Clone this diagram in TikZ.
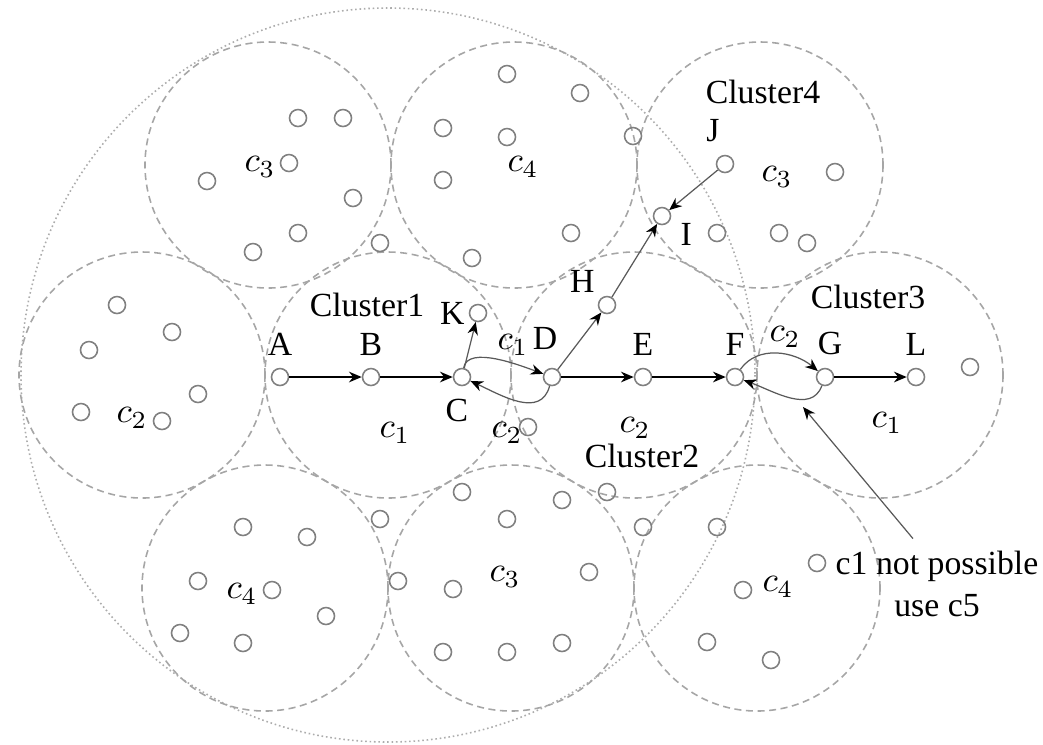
\documentclass[tikz,border=0pt]{standalone}
\usepackage{fontspec}
\setmainfont{Liberation Serif}
\usetikzlibrary{arrows.meta}

\begin{document}
\begin{tikzpicture}[
      x=0.01cm,y=-0.01cm,
      font=\fontsize{9.6}{12}\selectfont,
      zone/.style={draw=gray!70,line width=0.45pt,dash pattern=on 2pt off 1.3pt},
      reach/.style={draw=gray!65,line width=0.45pt,dash pattern=on 0.45pt off 0.8pt},
      sensor/.style={circle,draw=gray,line width=0.45pt,minimum size=0.17cm,inner sep=0pt},
      hop/.style={-{Stealth[length=3.6pt,width=3pt]},line width=0.6pt},
      link/.style={draw=gray!70!black,line width=0.35pt,-{Stealth[length=3.6pt,width=3pt,color=black]}}
    ]
      \useasboundingbox (0,0) rectangle (1043,744);
      % transmission range and the zones
      \draw[reach] (388,375) circle (367);
      \foreach \x/\y in {268/165,514/165,760/165,142/375,388/375,634/375,880/375,265/588,511/588,757/588}
        \draw[zone] (\x,\y) circle (123);
      % idle sensors
      \foreach \x/\y [count=\i] in {298/118,343/118,289/163,207/181,353/198,298/233,253/252,380/243,
          507/74,580/93,443/128,507/137,443/180,633/136,571/233,472/258,
          835/172,717/233,779/233,807/243,
          117/305,172/332,89/350,198/394,81/412,162/421,528/427,970/367,
          243/527,307/537,198/581,272/590,326/616,180/633,243/643,380/519,398/581,
          462/492,562/500,607/492,507/519,453/589,589/572,443/652,507/652,562/643,
          643/527,717/527,817/563,743/590,707/642,771/660}
        \node[sensor] (s\i) at (\x,\y) {};
      % sensors on the route
      \node[sensor,label=above:A] (A) at (280,377) {};
      \node[sensor,label=above:B] (B) at (371,377) {};
      \node[sensor,label={[xshift=-0.05cm]below:C}] (C) at (462,377) {};
      \node[sensor,label={[xshift=-0.07cm,yshift=0.06cm]above:D}] (D) at (552,377) {};
      \node[sensor,label=above:E] (E) at (643,377) {};
      \node[sensor,label=above:F] (F) at (735,377) {};
      \node[sensor,label={[xshift=0.05cm]above:G}] (G) at (825,377) {};
      \node[sensor,label=above:L] (L) at (916,377) {};
      \node[sensor,label={[inner sep=1pt]left:K}] (K) at (478,313) {};
      \node[sensor,label={[inner sep=1.5pt]above left:H}] (H) at (607,305) {};
      \node[sensor,label={[inner sep=1.5pt,xshift=0.06cm,yshift=0.05cm]below right:I}] (I) at (662,216) {};
      \node[sensor,label={[xshift=-0.12cm]above:J}] (J) at (725,164) {};
      % cluster names and channels
      \node (cl1) at (367,305) {Cluster1};
      \node (cl2) at (642,456) {Cluster2};
      \node (cl3) at (868,297) {Cluster3};
      \node (cl4) at (763,92) {Cluster4};
      \foreach \x/\y/\n [count=\i] in {260/167/3,523/167/4,777/177/3,132/418/2,395/433/1,507/433/2,
          513/345/1,635/428/2,785/337/2,887/423/1,242/594/4,505/577/3,778/587/4}
        \node (ch\i) at (\x,\y) {$c_\n$};
      \node[align=center] (note) at (937,584) {c1 not possible\\use c5};
      \coordinate (gf) at (803,407);
      % route
      \draw[hop] (A) -- (B);
      \draw[hop] (B) -- (C);
      \draw[hop] (D) -- (E);
      \draw[hop] (E) -- (F);
      \draw[hop] (G) -- (L);
      \draw[link] (C) -- (K);
      \draw[link] (D) -- (H);
      \draw[link] (H) -- (I);
      \draw[link] (J) -- (I);
      \draw[link] (C) to[out=80,in=160,looseness=0.75] (D);
      \draw[link] (D) to[out=-105,in=-25,looseness=1.1] (C);
      \draw[link] (F) to[out=55,in=140] (G);
      \draw[link] (G) to[out=-110,in=-20] (F);
      \draw[link] ([xshift=-0.24cm]note.north) -- (gf);
    \end{tikzpicture}
\end{document}
